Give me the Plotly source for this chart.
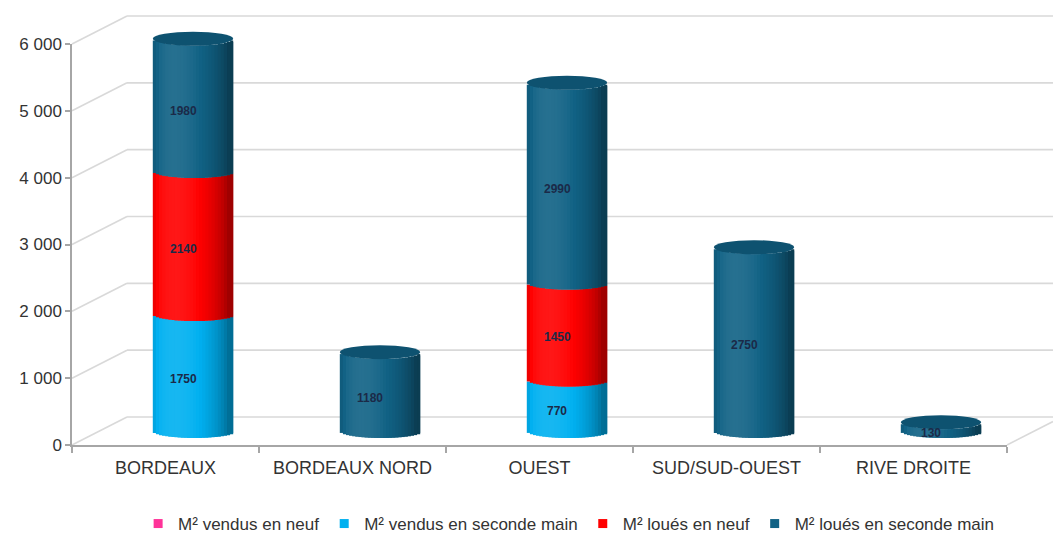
import math
import plotly.graph_objects as go

# ---- data -------------------------------------------------------------
categories = ["BORDEAUX", "BORDEAUX NORD", "OUEST", "SUD/SUD-OUEST", "RIVE DROITE"]
vendus_neuf = [0, 0, 0, 0, 0]
vendus_seconde_main = [1750, 0, 770, 0, 0]
loues_neuf = [2140, 0, 1450, 0, 0]
loues_seconde_main = [1980, 1180, 2990, 2750, 130]

series_names = ["M² vendus en neuf", "M² vendus en seconde main",
                "M² loués en neuf", "M² loués en seconde main"]
series_values = [vendus_neuf, vendus_seconde_main, loues_neuf, loues_seconde_main]
series_colors = ["#ff3399", "#00b0f0", "#ff0000", "#116285"]

y_ticks = [0, 1000, 2000, 3000, 4000, 5000, 6000]
y_ticktext = ["0", "1 000", "2 000", "3 000", "4 000", "5 000", "6 000"]

# ---- geometry of the pseudo-3D frame (pixels) ---------------------------
W, H = 1053, 536
FX0, FX1 = 72, 1007          # front floor edge, left / right
FY0, FY1 = 445, 44           # front pixel rows of 0 and YMAX
YMAX = 6000
DX, DY = 55, 28              # depth offset of the back wall
PPU = (FY0 - FY1) / YMAX     # pixels per unit
BAR_W = 0.43                 # bar width in category units
CAT_PX = (FX1 - FX0) / len(categories)
CAP_H = 7                    # half height of the cylinder ellipses (px)
N_SLICES = 26
Y_LO = -300                  # room below zero for the rounded bottoms


def fx(px):
    return px / W


def fy(py):
    return 1 - py / H


def hex_rgb(h):
    h = h.lstrip("#")
    return tuple(int(h[i:i + 2], 16) for i in (0, 2, 4))


def shade(color, s):
    r, g, b = hex_rgb(color)
    if s >= 1:
        k = min(s - 1, 1)
        r, g, b = (c + (255 - c) * k for c in (r, g, b))
    else:
        r, g, b = (c * s for c in (r, g, b))
    return "rgb(%d,%d,%d)" % (round(r), round(g), round(b))


def light(t):
    # simple diffuse lighting across a cylinder lit from the front-left
    x = 2 * t - 1
    nz = math.sqrt(max(0.0, 1 - x * x))
    lx, lz = -0.45, 0.89
    d = max(0.0, x * lx + nz * lz)
    return 0.62 + 0.47 * d


fig = go.Figure()

# ---- cylinders built from thin vertical slices ----------------------------
n = len(categories)
xs = list(range(n))
cum = [0] * n
bases = []
for vals in series_values:
    bases.append(list(cum))
    cum = [c + v for c, v in zip(cum, vals)]
totals = cum

slice_w = BAR_W / N_SLICES
for si, (vals, col) in enumerate(zip(series_values, series_colors)):
    if not any(vals):
        continue
    for k in range(N_SLICES):
        t = (k + 0.5) / N_SLICES
        drop = CAP_H * math.sqrt(max(0.0, 1 - (2 * t - 1) ** 2)) / PPU
        # each slice overlaps the next one so no seams show through
        w = slice_w * (1.0 if k == N_SLICES - 1 else 2.0)
        c = shade(col, light(t))
        fig.add_trace(go.Bar(
            x=xs, y=vals,
            base=[b - drop if v else 0 for b, v in zip(bases[si], vals)],
            width=w, offset=-BAR_W / 2 + k * slice_w,
            marker=dict(color=c, line=dict(width=0)),
            showlegend=False, hoverinfo="skip", xaxis="x", yaxis="y",
        ))

# legend entries
for name, col in zip(series_names, series_colors):
    fig.add_trace(go.Scatter(
        x=[None], y=[None], mode="markers", name=name,
        marker=dict(symbol="square", size=9, color=col),
        xaxis="x", yaxis="y",
    ))

shapes = []
# ---- back wall, floor and diagonal grid lines --------------------------
grid_col = "#d9d9d9"
for v in y_ticks:
    py = FY0 - v * PPU
    shapes.append(dict(type="line", xref="paper", yref="paper", layer="below",
                       x0=fx(FX0), y0=fy(py), x1=fx(FX0 + DX), y1=fy(py - DY),
                       line=dict(color=grid_col, width=1.6)))
    shapes.append(dict(type="line", xref="paper", yref="paper", layer="below",
                       x0=fx(FX0 + DX), y0=fy(py - DY), x1=1, y1=fy(py - DY),
                       line=dict(color=grid_col, width=1.6)))
# right edge of the floor, cut by the page border
frac = min(1.0, (W - FX1) / DX)
shapes.append(dict(type="line", xref="paper", yref="paper", layer="below",
                   x0=fx(FX1), y0=fy(FY0), x1=fx(FX1 + DX * frac),
                   y1=fy(FY0 - DY * frac),
                   line=dict(color=grid_col, width=1.6)))

# ---- elliptical tops of the cylinders -------------------------------------
half_px = BAR_W * CAT_PX / 2
for i in range(n):
    if totals[i] <= 0:
        continue
    top_series = max(si for si in range(len(series_values)) if series_values[si][i])
    shapes.append(dict(type="circle", xref="x", yref="y", layer="above",
                       xsizemode="pixel", ysizemode="pixel",
                       xanchor=i, yanchor=totals[i],
                       x0=-half_px, x1=half_px, y0=-CAP_H, y1=CAP_H,
                       fillcolor=shade(series_colors[top_series], 0.84),
                       line=dict(width=0)))

# ---- value labels -----------------------------------------------------------
annotations = []
for si, vals in enumerate(series_values):
    for i, v in enumerate(vals):
        if not v:
            continue
        annotations.append(dict(
            x=i, y=bases[si][i] + v / 2, xref="x", yref="y", text="<b>%d</b>" % v,
            showarrow=False, xshift=-10, yshift=-6,
            font=dict(family="Liberation Sans", size=12, color="#1b2a48")))

# bars sit halfway into the depth of the frame
bx0 = FX0 + DX / 2
by_zero = FY0 - DY / 2
fig.update_layout(
    width=W, height=H,
    margin=dict(l=0, r=0, t=0, b=0, autoexpand=False),
    paper_bgcolor="white", plot_bgcolor="rgba(0,0,0,0)",
    barmode="overlay",
    showlegend=True,
    legend=dict(orientation="h", x=0.54, xanchor="center",
                y=fy(524), yanchor="middle",
                font=dict(family="Liberation Sans", size=17, color="#333333"),
                itemwidth=30, tracegroupgap=0),
    xaxis=dict(domain=[fx(bx0), fx(bx0 + FX1 - FX0)], range=[-0.5, n - 0.5],
               visible=False, anchor="y", fixedrange=True),
    yaxis=dict(domain=[fy(by_zero - Y_LO * PPU), fy(by_zero - YMAX * PPU)],
               range=[Y_LO, YMAX], visible=False, anchor="x", fixedrange=True),
    xaxis2=dict(domain=[fx(FX0), fx(FX1)], anchor="y2", type="category",
                categoryorder="array", categoryarray=categories,
                range=[-0.5, n - 0.5], tickson="boundaries",
                ticks="outside", ticklen=6, tickcolor="#a6a6a6", tickwidth=1.5,
                showline=True, linecolor="#a6a6a6", linewidth=1.5,
                showgrid=False, ticklabelstandoff=6,
                tickfont=dict(family="Liberation Sans", size=18, color="#333333")),
    yaxis2=dict(domain=[fy(FY0), fy(FY1)], anchor="x2", range=[0, YMAX],
                tickvals=y_ticks, ticktext=y_ticktext,
                ticks="outside", ticklen=5, tickcolor="#a6a6a6", tickwidth=1.5,
                showline=True, linecolor="#a6a6a6", linewidth=1.5,
                showgrid=False, zeroline=False,
                tickfont=dict(family="Liberation Sans", size=17, color="#333333")),
    shapes=shapes,
    annotations=annotations,
)

# invisible trace so the front axes are drawn
fig.add_trace(go.Scatter(x=categories, y=[None] * n, xaxis="x2", yaxis="y2",
                         showlegend=False, hoverinfo="skip"))

fig.write_html("out.html")
